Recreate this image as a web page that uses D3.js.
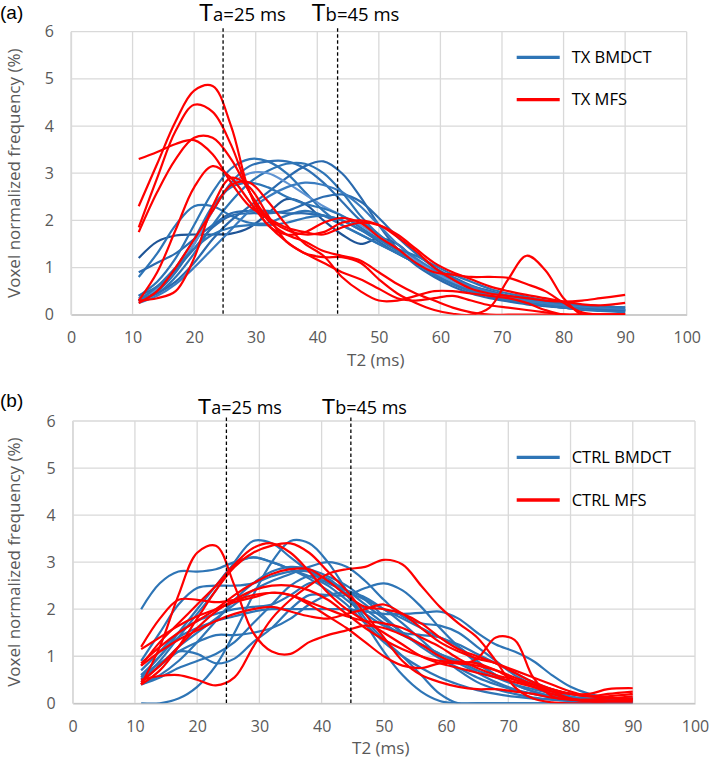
<!DOCTYPE html>
<html><head><meta charset="utf-8">
<script src="https://cdn.jsdelivr.net/npm/d3@7"></script>
<style>body{margin:0;background:#fff}svg{display:block;font-family:"Open Sans",sans-serif}</style>
</head><body><svg id="c" width="709" height="762"></svg>
<script>
// T2 sample positions (ms)
const t2 = [11,14,17,20,23,26,29,32,35,38,41,44,47,50,53,56,59,62,65,68,71,74,77,80,83,86,90];
const xTicks = [0,10,20,30,40,50,60,70,80,90,100];
const yTicks = [0,1,2,3,4,5,6];

// Panel (a) TX BMDCT
const txBmdct = [
 [1.2,1.55,1.68,1.7,1.7,1.72,1.85,2.15,2.45,2.35,2.0,1.7,1.5,1.62,1.5,1.15,0.85,0.65,0.5,0.4,0.35,0.3,0.25,0.22,0.2,0.18,0.15],
 [0.8,1.3,1.9,2.3,2.3,2.1,1.95,1.95,2.1,2.2,2.1,1.9,1.7,1.5,1.3,1.1,0.9,0.7,0.55,0.45,0.35,0.3,0.25,0.2,0.15,0.12,0.1],
 [0.9,1.1,1.3,1.6,1.9,2.15,2.2,2.2,2.15,2.15,2.1,2.0,1.8,1.55,1.3,1.1,0.9,0.75,0.6,0.5,0.4,0.35,0.3,0.25,0.2,0.18,0.15],
 [0.4,0.7,1.2,1.9,2.6,3.1,3.3,3.25,3.0,2.6,2.2,1.9,1.7,1.5,1.3,1.1,0.9,0.7,0.55,0.4,0.3,0.25,0.2,0.15,0.1,0.08,0.05],
 [0.3,0.5,0.9,1.5,2.2,2.8,3.15,3.25,3.25,3.1,2.8,2.4,2.0,1.7,1.4,1.1,0.85,0.65,0.5,0.4,0.3,0.25,0.2,0.15,0.12,0.1,0.08],
 [0.35,0.45,0.8,1.3,1.9,2.4,2.8,3.05,3.2,3.2,3.0,2.6,2.1,1.7,1.4,1.1,0.9,0.7,0.55,0.45,0.35,0.28,0.22,0.18,0.15,0.12,0.1],
 [0.3,0.45,0.7,1.1,1.6,2.0,2.3,2.6,2.9,3.15,3.25,3.0,2.5,1.9,1.4,1.05,0.8,0.6,0.45,0.35,0.28,0.22,0.18,0.15,0.12,0.1,0.08],
 [0.35,0.55,0.95,1.5,2.2,2.75,3.0,3.0,2.8,2.55,2.3,2.1,1.9,1.65,1.4,1.15,0.9,0.7,0.55,0.45,0.35,0.3,0.25,0.2,0.15,0.12,0.1],
 [0.3,0.5,1.0,1.6,2.3,2.7,2.8,2.7,2.5,2.35,2.25,2.1,1.85,1.6,1.35,1.1,0.85,0.65,0.5,0.4,0.32,0.25,0.2,0.15,0.12,0.1,0.08],
 [0.4,0.6,0.95,1.4,1.85,2.1,2.15,2.15,2.2,2.35,2.5,2.55,2.4,2.05,1.65,1.3,1.0,0.8,0.62,0.5,0.4,0.32,0.26,0.2,0.16,0.12,0.1],
 [0.25,0.4,0.65,1.0,1.4,1.8,2.2,2.5,2.7,2.8,2.75,2.6,2.3,1.9,1.5,1.2,0.95,0.75,0.6,0.48,0.38,0.3,0.25,0.2,0.17,0.15,0.12],
 [0.3,0.6,1.0,1.4,1.7,1.85,1.9,1.9,1.95,2.05,2.1,2.0,1.8,1.6,1.4,1.25,1.05,0.85,0.7,0.55,0.45,0.38,0.3,0.25,0.2,0.18,0.15]
];
// Panel (a) TX MFS
const txMfs = [
 [3.3,3.45,3.62,3.7,3.4,2.8,2.3,2.05,1.85,1.75,1.7,1.85,1.95,1.9,1.7,1.4,1.1,0.9,0.75,0.6,0.5,0.42,0.35,0.28,0.22,0.2,0.25],
 [2.3,3.2,4.1,4.75,4.85,4.0,2.6,1.9,1.7,1.75,1.95,2.05,1.95,1.65,1.4,1.1,0.9,0.85,0.8,0.8,0.78,0.65,0.5,0.25,0.05,0.0,0.0],
 [1.85,2.9,3.9,4.45,4.3,3.6,2.6,2.0,1.7,1.55,1.35,1.25,1.15,0.9,0.65,0.45,0.3,0.15,0.05,0.0,0.0,0.0,0.0,0.0,0.0,0.0,0.0],
 [1.75,2.6,3.3,3.75,3.75,3.3,2.6,2.05,1.8,1.7,1.75,1.95,2.0,1.9,1.65,1.35,1.0,0.75,0.55,0.45,0.4,0.35,0.3,0.28,0.3,0.35,0.42],
 [0.3,0.9,1.8,2.7,3.15,2.9,2.4,1.9,1.55,1.3,1.22,1.22,1.1,0.75,0.45,0.25,0.1,0.02,0.0,0.15,0.75,1.25,0.95,0.35,0.0,0.0,0.0],
 [0.3,0.35,0.5,1.2,2.3,2.9,2.7,2.1,1.55,1.3,1.1,0.9,0.75,0.55,0.35,0.3,0.35,0.4,0.3,0.2,0.15,0.1,0.05,0.0,0.0,0.0,0.0],
 [0.25,0.5,1.0,1.6,2.2,2.75,2.8,2.4,1.9,1.5,1.25,0.8,0.5,0.3,0.3,0.4,0.5,0.5,0.45,0.4,0.35,0.25,0.1,0.0,0.0,0.0,0.0]
];
// Panel (b) CTRL BMDCT
const ctrlBmdct = [
 [2.0,2.55,2.8,2.8,2.85,3.0,3.1,3.0,2.85,2.7,2.5,2.2,1.9,1.65,1.5,1.45,1.4,1.2,0.9,0.6,0.4,0.25,0.15,0.1,0.08,0.08,0.08],
 [0,0,0.1,0.35,0.8,1.5,2.3,3.0,3.45,3.4,3.0,2.4,1.8,1.35,1.0,0.6,0.2,0,0,0,0,0,0,0,0,0,0],
 [0.5,0.9,1.4,1.9,2.4,3.0,3.45,3.4,3.1,2.8,2.55,2.4,2.25,2.0,1.7,1.35,1.0,0.7,0.45,0.3,0.2,0.12,0.08,0.05,0.05,0.05,0.05],
 [0.9,1.5,2.1,2.45,2.5,2.5,2.55,2.7,2.8,2.8,2.6,2.3,2.0,1.7,1.45,1.25,1.05,0.9,0.7,0.55,0.4,0.3,0.2,0.12,0.08,0.08,0.08],
 [0.6,0.85,1.1,1.05,0.85,0.95,1.3,1.6,2.0,2.3,2.3,2.3,2.45,2.55,2.4,2.05,1.6,1.2,0.85,0.6,0.4,0.25,0.15,0.1,0.1,0.1,0.1],
 [0.5,0.8,1.2,1.5,1.8,2.1,2.4,2.6,2.75,2.9,3.0,2.9,2.6,2.2,1.85,1.7,1.65,1.5,1.2,0.9,0.6,0.4,0.25,0.15,0.1,0.08,0.05],
 [0.55,1.0,1.4,1.6,1.75,1.85,1.95,2.0,2.0,2.0,2.0,2.0,1.95,1.9,1.9,1.92,1.95,1.8,1.5,1.25,1.1,0.9,0.6,0.35,0.2,0.12,0.1],
 [0.45,0.8,1.1,1.3,1.45,1.45,1.5,1.6,1.8,2.1,2.3,2.35,2.2,2.0,1.8,1.6,1.4,1.25,1.05,0.85,0.65,0.45,0.3,0.2,0.15,0.1,0.08],
 [0.7,1.1,1.5,1.75,1.9,2.0,2.05,2.1,2.3,2.55,2.6,2.4,2.1,1.8,1.5,1.25,1.05,0.85,0.65,0.45,0.3,0.2,0.12,0.08,0.05,0.05,0.05],
 [0.4,0.6,0.9,1.3,1.75,2.2,2.55,2.8,2.9,2.85,2.7,2.5,2.2,1.85,1.5,1.2,0.95,0.75,0.55,0.4,0.28,0.2,0.15,0.1,0.08,0.06,0.05],
 [0.6,1.0,1.5,2.0,2.5,2.95,3.1,3.0,2.85,2.65,2.4,2.1,1.7,1.3,1.0,0.75,0.55,0.4,0.28,0.2,0.14,0.1,0.08,0.06,0.05,0.05,0.05],
 [0.4,0.55,0.75,0.9,1.05,1.3,1.7,2.1,2.5,2.7,2.65,2.3,1.7,1.1,0.6,0.25,0.05,0,0,0,0,0,0,0,0,0,0]
];
// Panel (b) CTRL MFS
const ctrlMfs = [
 [0.4,1.2,2.3,3.2,3.35,2.5,1.5,1.1,1.05,1.3,1.45,1.55,1.65,1.6,1.45,1.25,1.0,0.85,0.95,1.4,1.35,0.55,0.15,0.08,0.08,0.1,0.15],
 [0.5,0.58,0.6,0.5,0.38,0.55,1.2,1.8,2.2,2.5,2.75,2.85,2.9,3.05,2.95,2.5,2.05,1.7,1.4,0.9,0.35,0.1,0.02,0,0,0,0],
 [0.8,1.3,1.7,2.1,2.5,2.95,3.3,3.4,3.2,2.8,2.35,2.0,1.75,1.5,1.25,1.0,0.85,0.75,0.65,0.55,0.45,0.35,0.25,0.2,0.2,0.3,0.32],
 [0.4,0.7,1.2,1.8,2.4,2.9,3.2,3.35,3.4,3.2,2.8,2.4,1.9,1.4,0.9,0.6,0.45,0.35,0.3,0.3,0.25,0.2,0.12,0.08,0.05,0.05,0.1],
 [1.2,1.8,2.2,2.2,2.15,2.2,2.3,2.35,2.3,2.15,2.0,1.85,1.75,1.7,1.6,1.4,1.2,0.95,0.75,0.6,0.5,0.4,0.3,0.2,0.15,0.2,0.25],
 [0.85,1.2,1.5,1.75,2.0,2.3,2.55,2.75,2.85,2.85,2.6,2.3,2.05,2.0,1.9,1.7,1.4,1.15,1.0,0.85,0.7,0.55,0.4,0.25,0.15,0.12,0.1],
 [0.8,1.1,1.35,1.55,1.75,1.9,2.0,2.05,1.95,1.85,1.8,1.9,2.0,2.1,1.9,1.6,1.3,1.1,0.95,0.85,0.65,0.45,0.3,0.2,0.15,0.15,0.2],
 [1.15,1.4,1.65,1.85,2.0,2.15,2.25,2.35,2.3,2.1,1.85,1.6,1.3,1.0,0.8,0.75,0.85,0.85,0.8,0.7,0.55,0.4,0.25,0.1,0.05,0.05,0.05],
 [0.45,0.8,1.2,1.6,1.95,2.2,2.4,2.5,2.5,2.4,2.2,1.9,1.6,1.35,1.15,1.0,0.9,0.88,0.85,0.7,0.5,0.35,0.2,0.1,0.05,0.05,0.08]
];
const panelTags = ["(a)","(b)"];
const legendA = ["TX BMDCT","TX MFS"];
const legendB = ["CTRL BMDCT","CTRL MFS"];
const markersA = [24.7, 43.3];
const markersB = [24.7, 44.7];
const markerSub = ["a","b"];
const markerVal = ["=25 ms","=45 ms"];

const blueShadesA = ["#1f5597","#2e75b6","#2b6cb0","#2e75b6","#2f70b3","#2e75b6","#2a6aae","#5f93d2","#2e75b6","#2b6cb0","#3a7cc0","#2e75b6"];
const blueShadesB = ["#2e75b6"];
const RED = "#ff0000";

const svg = d3.select("#c");

function panel(o){
  const x = d3.scaleLinear().domain([0,100]).range([o.left,o.right]);
  const y = d3.scaleLinear().domain([0,6]).range([o.bottom,o.top]);
  const g = svg.append("g");
  // gridlines
  g.selectAll(".vg").data(xTicks).join("line")
    .attr("x1",d=>x(d)).attr("x2",d=>x(d)).attr("y1",y(0)).attr("y2",y(6))
    .attr("stroke","#d9d9d9").attr("stroke-width",1.3);
  g.selectAll(".hg").data(yTicks).join("line")
    .attr("x1",x(0)).attr("x2",x(100)).attr("y1",d=>y(d)).attr("y2",d=>y(d))
    .attr("stroke","#d9d9d9").attr("stroke-width",1.3);
  // axes
  const xa = g.append("g").attr("transform",`translate(0,${y(0)})`)
    .call(d3.axisBottom(x).tickValues(xTicks).tickFormat(d3.format("d")).tickSize(0).tickPadding(17));
  xa.select(".domain").attr("stroke","#bfbfbf").attr("stroke-width",1.3);
  xa.selectAll("text").attr("font-size",16).attr("fill","#595959").attr("font-family","Open Sans");
  const ya = g.append("g").attr("transform",`translate(${x(0)},0)`)
    .call(d3.axisLeft(y).tickValues(yTicks).tickFormat(d3.format("d")).tickSize(0).tickPadding(17));
  ya.select(".domain").attr("stroke","#d9d9d9").attr("stroke-width",1.3);
  ya.selectAll("text").attr("font-size",16).attr("fill","#595959").attr("font-family","Open Sans");

  const clipId = "clip"+o.id;
  svg.append("clipPath").attr("id",clipId).append("rect")
    .attr("x",x(0)).attr("y",y(6)-5).attr("width",x(100)-x(0)).attr("height",y(0)-y(6)+5);
  const line = d3.line().x((d,i)=>x(t2[i])).y(d=>y(d)).curve(d3.curveCatmullRom.alpha(0.5));
  const lg = g.append("g").attr("clip-path",`url(#${clipId})`);
  lg.selectAll(".b").data(o.blue).join("path")
    .attr("d",line).attr("fill","none").attr("stroke",(d,i)=>o.shades[i%o.shades.length]).attr("stroke-width",2.2);
  lg.selectAll(".r").data(o.red).join("path")
    .attr("d",line).attr("fill","none").attr("stroke",RED).attr("stroke-width",2.2);

  // marker lines
  o.markers.forEach((m,i)=>{
    g.append("line").attr("x1",x(m)).attr("x2",x(m)).attr("y1",y(6)-3.5).attr("y2",y(0))
      .attr("stroke","#000").attr("stroke-width",1.3).attr("stroke-dasharray","3.5,2.5");
    const t = g.append("text").attr("x",o.labelX[i]).attr("y",o.labelY).attr("fill","#000");
    t.append("tspan").attr("font-size",o.bigT).attr("font-family","Liberation Sans").text("T");
    t.append("tspan").attr("font-size",o.smallT).text(markerSub[i]+markerVal[i]);
  });
  // legend
  o.legend.forEach((s,i)=>{
    const ly = o.legY[i];
    g.append("line").attr("x1",o.legX).attr("x2",o.legX+43).attr("y1",ly).attr("y2",ly)
      .attr("stroke",i===0?"#2e75b6":RED).attr("stroke-width",3.3);
    g.append("text").attr("x",o.legX+55).attr("y",ly+5.5).attr("font-size",16.5).attr("fill","#000").text(s);
  });
  // tag
  g.append("text").attr("x",0).attr("y",o.tagY).attr("font-size",19).attr("font-family","Liberation Sans").text(o.tag);
  // axis titles
  g.append("text").attr("x",(x(0)+x(100))/2 - (x(100)-x(0))*0.005).attr("y",o.xtY).attr("text-anchor","middle")
    .attr("font-size",17).attr("fill","#595959").text("T2 (ms)");
  g.append("text").attr("transform",`translate(20,${(y(0)+y(6))/2}) rotate(-90)`).attr("text-anchor","middle")
    .attr("font-size",17).attr("fill","#595959").text("Voxel normalized frequency (%)");
}

panel({id:"a",left:71,right:686.7,top:31.7,bottom:314.7,blue:txBmdct,red:txMfs,shades:blueShadesA,markers:markersA,
  labelX:[199,311.5],labelY:21,bigT:23,smallT:18.5,legend:legendA,legX:516.7,legY:[57.3,99.7],
  tag:panelTags[0],tagY:19,xtY:365.5});
panel({id:"b",left:72.7,right:695,top:421,bottom:703.3,blue:ctrlBmdct,red:ctrlMfs,shades:blueShadesB,markers:markersB,
  labelX:[197.7,321.7],labelY:414.3,bigT:22,smallT:18,legend:legendB,legX:516.7,legY:[457.3,500],
  tag:panelTags[1],tagY:407,xtY:754});
</script></body></html>
